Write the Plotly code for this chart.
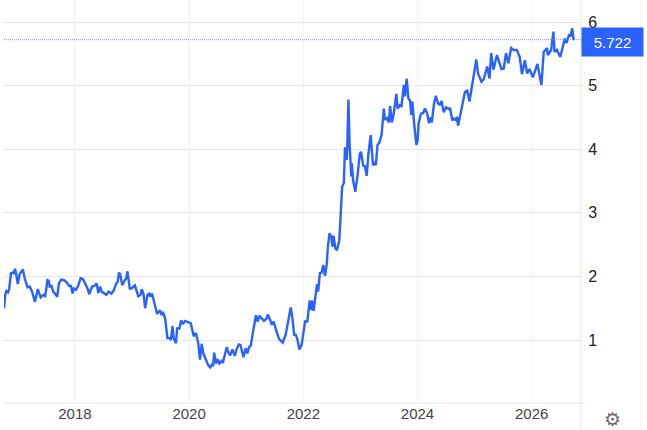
import plotly.graph_objects as go

years = [2016.76,2016.78,2016.80,2016.83,2016.85,2016.88,2016.91,2016.93,2016.95,2016.97,2017.00,2017.03,2017.05,2017.09,2017.12,2017.17,2017.21,2017.25,2017.30,2017.35,2017.40,2017.45,2017.48,2017.52,2017.54,2017.56,2017.59,2017.62,2017.66,2017.69,2017.72,2017.76,2017.81,2017.85,2017.90,2017.93,2017.96,2017.98,
2018.02,2018.06,2018.10,2018.14,2018.18,2018.22,2018.25,2018.30,2018.34,2018.38,2018.41,2018.44,2018.47,2018.52,2018.55,2018.59,2018.64,2018.68,2018.72,2018.75,2018.77,2018.79,2018.83,2018.88,2018.90,2018.92,2018.96,2018.99,
2019.05,2019.11,2019.15,2019.17,2019.20,2019.23,2019.27,2019.30,2019.32,2019.35,2019.39,2019.44,2019.49,2019.52,2019.54,2019.58,2019.62,2019.66,2019.68,2019.71,2019.73,2019.77,2019.79,2019.83,2019.86,2019.89,2019.93,2019.97,
2020.03,2020.08,2020.12,2020.16,2020.19,2020.22,2020.25,2020.29,2020.33,2020.37,2020.40,2020.42,2020.44,2020.47,2020.50,2020.53,2020.57,2020.59,2020.62,2020.66,2020.68,2020.72,2020.76,2020.80,2020.83,2020.87,2020.90,2020.95,2020.99,
2021.02,2021.05,2021.08,2021.11,2021.15,2021.17,2021.20,2021.23,2021.27,2021.31,2021.35,2021.38,2021.42,2021.45,2021.48,2021.51,2021.55,2021.58,2021.64,2021.69,2021.72,2021.78,2021.81,2021.84,2021.87,2021.90,2021.93,2021.97,
2022.00,2022.03,2022.07,2022.11,2022.14,2022.15,2022.18,2022.22,2022.24,2022.26,2022.29,2022.32,2022.35,2022.38,2022.41,2022.43,2022.46,2022.49,2022.51,2022.53,2022.56,2022.59,2022.63,2022.65,2022.68,2022.71,2022.73,2022.76,2022.77,2022.79,2022.81,2022.84,2022.85,2022.87,2022.91,2022.95,2022.99,
2023.01,2023.05,2023.08,2023.11,2023.14,2023.18,2023.22,2023.25,2023.27,2023.30,2023.33,2023.37,2023.41,2023.43,2023.47,2023.50,2023.52,2023.55,2023.58,2023.63,2023.65,2023.69,2023.72,2023.76,2023.78,2023.81,2023.84,2023.87,2023.89,2023.91,2023.94,2023.98,
2024.00,2024.02,2024.06,2024.10,2024.13,2024.17,2024.20,2024.23,2024.25,2024.29,2024.32,2024.36,2024.39,2024.42,2024.46,2024.50,2024.55,2024.57,2024.61,2024.63,2024.67,2024.69,2024.71,2024.76,2024.79,2024.83,2024.87,2024.91,2024.98,
2025.03,2025.06,2025.12,2025.16,2025.22,2025.26,2025.29,2025.33,2025.39,2025.47,2025.51,2025.55,2025.59,2025.64,2025.68,2025.74,2025.79,2025.83,2025.88,2025.92,2025.96,
2026.02,2026.10,2026.17,2026.21,2026.27,2026.28,2026.34,2026.38,2026.40,2026.44,2026.50,2026.58,2026.61,2026.65,2026.68,2026.71,2026.73,2026.75]

values = [1.50,1.71,1.77,1.75,1.81,2.05,2.06,2.05,2.12,2.05,1.88,2.03,2.06,2.11,1.97,1.83,1.84,1.76,1.60,1.80,1.67,1.71,1.69,1.94,1.93,1.84,1.85,1.76,1.72,1.68,1.89,1.95,1.94,1.91,1.85,1.85,1.73,1.81,
1.79,1.86,1.97,1.96,1.89,1.81,1.72,1.84,1.85,1.89,1.74,1.84,1.76,1.73,1.71,1.76,1.73,1.78,1.88,1.92,2.06,2.04,1.86,1.95,1.97,2.08,1.81,1.81,
1.86,1.69,1.71,1.80,1.73,1.50,1.71,1.73,1.68,1.73,1.58,1.41,1.47,1.39,1.44,1.34,1.03,1.03,1.00,1.22,1.03,0.95,1.18,1.18,1.31,1.25,1.30,1.28,
1.26,1.06,1.11,0.95,0.69,0.94,0.79,0.70,0.61,0.57,0.61,0.59,0.80,0.63,0.70,0.63,0.67,0.64,0.76,0.89,0.82,0.76,0.85,0.75,0.85,0.93,0.92,0.73,0.87,
0.79,0.89,0.91,1.08,1.31,1.39,1.29,1.38,1.34,1.30,1.33,1.40,1.31,1.24,1.29,1.18,1.08,1.01,0.96,1.08,1.24,1.51,1.34,1.08,1.08,1.00,0.85,0.92,
1.10,1.29,1.29,1.62,1.47,1.62,1.46,1.73,1.88,1.76,2.05,2.06,2.18,2.01,2.19,2.47,2.68,2.62,2.47,2.64,2.44,2.41,2.57,2.89,3.41,3.47,4.03,3.83,4.04,4.78,4.09,3.57,3.78,3.52,3.33,3.59,3.93,
3.96,3.74,3.73,3.58,3.93,4.22,3.75,3.78,3.75,4.07,4.10,4.22,4.64,4.46,4.49,4.42,4.68,4.42,4.54,4.87,4.64,4.69,4.68,5.01,4.83,5.11,4.80,4.76,4.54,4.75,4.41,4.07,
4.12,4.41,4.56,4.57,4.64,4.56,4.41,4.50,4.42,4.72,4.84,4.72,4.70,4.76,4.58,4.66,4.63,4.65,4.45,4.48,4.46,4.51,4.37,4.62,4.72,4.90,4.92,4.75,5.17,
5.41,5.19,5.06,5.10,5.30,5.11,5.51,5.25,5.48,5.26,5.27,5.51,5.35,5.59,5.56,5.56,5.45,5.18,5.40,5.19,5.26,
5.13,5.34,5.01,5.53,5.59,5.48,5.56,5.85,5.53,5.56,5.45,5.74,5.67,5.79,5.78,5.90,5.74,5.72]

last_value = 5.722
x_ticks = [2018, 2020, 2022, 2024, 2026]
x_labels = ["2018", "2020", "2022", "2024", "2026"]
y_ticks = [1, 2, 3, 4, 5, 6]

BLUE = "#2962ff"
W, H = 647, 430
L, R, T, B = 4, 65.5, 0, 27

fig = go.Figure(go.Scatter(x=years, y=values, mode="lines",
                           line=dict(color=BLUE, width=2.4), hoverinfo="skip"))

fig.add_shape(type="line", xref="paper", x0=0, x1=1, yref="y", y0=last_value, y1=last_value,
              line=dict(color="#6f95ff", width=1, dash="1px,1px"), layer="above")
fig.add_shape(type="line", xref="paper", yref="paper", x0=1, x1=1, y0=-27/403, y1=1,
              line=dict(color="#e4e4e4", width=1), layer="below")
fig.add_shape(type="line", xref="paper", yref="paper", x0=637.5/577.5, x1=637.5/577.5, y0=-27/403, y1=1,
              line=dict(color="#f0f0f0", width=1), layer="below")
fig.add_shape(type="line", xref="paper", yref="paper", x0=0, x1=582/577.5, y0=0, y1=0,
              line=dict(color="#e4e4e4", width=1), layer="below")

fig.add_annotation(xref="paper", x=1, xanchor="left", yref="y", y=last_value, yanchor="middle", yshift=-2,
                   text=f"{last_value:.3f}", showarrow=False, bgcolor=BLUE, width=57, height=24,
                   borderpad=2, align="center", font=dict(color="white", size=15, family="Liberation Sans"))
fig.add_annotation(xref="paper", x=1.0545, xanchor="center", yref="paper", y=-0.0385, yanchor="middle",
                   text="⚙", showarrow=False, font=dict(color="#6a6a6a", size=19, family="DejaVu Sans"))

fig.update_layout(
    width=W, height=H, autosize=False,
    margin=dict(l=L, r=R, t=T, b=B, pad=0),
    paper_bgcolor="white", plot_bgcolor="white",
    showlegend=False,
    font=dict(family="Liberation Sans", size=15, color="#333333"),
    xaxis=dict(range=[2016.758, 2026.863], tickmode="array", tickvals=x_ticks, ticktext=x_labels,
               showgrid=True, gridcolor="#f0f3f6", gridwidth=1, zeroline=False, showline=False,
               ticks="", tickfont=dict(size=15, color="#444444")),
    yaxis=dict(range=[0.0094, 6.346], side="right", tickmode="array", tickvals=y_ticks,
               showgrid=True, gridcolor="#e6e6e6", gridwidth=1, zeroline=False, showline=False,
               ticks="outside", ticklen=3, tickcolor="rgba(0,0,0,0)", tickfont=dict(size=16, color="#222222")),
)

fig.write_html("out.html", config={"displayModeBar": False},
               post_script="document.body.style.margin='0';document.body.style.overflow='hidden';")
